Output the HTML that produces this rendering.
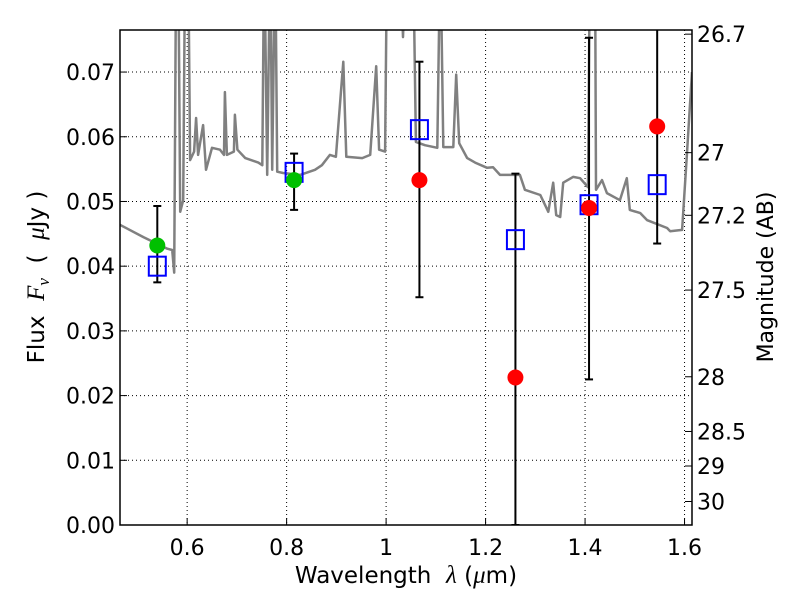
<!DOCTYPE html>
<html><head><meta charset="utf-8">
<style>
html,body{margin:0;padding:0;background:#fff;}
svg{display:block;font-family:"DejaVu Sans","Liberation Sans",sans-serif;}
</style></head>
<body>
<svg id="chart" width="800" height="600" viewBox="0 0 800 600" xmlns="http://www.w3.org/2000/svg">
<rect x="0" y="0" width="800" height="600" fill="#fff"/>
<defs><clipPath id="plotclip"><rect x="120" y="30" width="572" height="495"/></clipPath></defs>
<g id="grid"></g>
<g id="spectrum" clip-path="url(#plotclip)"></g>
<g id="points" clip-path="url(#plotclip)"></g>
<rect x="120" y="30" width="572" height="495" fill="none" stroke="#000" stroke-width="1.5"/>
<g id="axes"></g>
<text x="406" y="583" font-size="23" text-anchor="middle" xml:space="preserve">Wavelength  <tspan font-style="italic" font-family="Liberation Serif,serif" font-size="25">λ</tspan> (<tspan font-style="italic" font-family="Liberation Serif,serif" font-size="25">μ</tspan>m)</text>
<text transform="translate(44,277) rotate(-90)" font-size="23" text-anchor="middle" xml:space="preserve">Flux  <tspan font-style="italic" font-family="Liberation Serif,serif" font-size="25">F</tspan><tspan font-style="italic" font-family="Liberation Serif,serif" font-size="17" dy="5">ν</tspan><tspan dy="-5">  (  </tspan><tspan font-style="italic" font-family="Liberation Serif,serif" font-size="25">μ</tspan>Jy )</text>
<text transform="translate(773,277) rotate(-90)" font-size="22" text-anchor="middle">Magnitude (AB)</text>
</svg>
<script>
const xTicks = [0.6, 0.8, 1.0, 1.2, 1.4, 1.6];
const xTickLabels = ["0.6", "0.8", "1", "1.2", "1.4", "1.6"];
const yTicks = [0, 0.01, 0.02, 0.03, 0.04, 0.05, 0.06, 0.07];
const yTickLabels = ["0.00","0.01","0.02","0.03","0.04","0.05","0.06","0.07"];
const magTicks = [26.7, 27, 27.2, 27.5, 28, 28.5, 29, 30];
const magTickLabels = ["26.7","27","27.2","27.5","28","28.5","29","30"];

const specLam = [0.465,0.512,0.560,0.570,0.574,0.578,0.582,0.586,0.592,0.596,0.602,0.606,0.614,0.618,0.622,0.632,0.638,0.650,0.666,0.674,0.676,0.680,0.694,0.696,0.701,0.717,0.743,0.751,0.755,0.761,0.767,0.771,0.777,0.781,0.793,0.827,0.857,0.871,0.887,0.899,0.914,0.920,0.952,0.968,0.980,0.986,0.998,1.002,1.028,1.034,1.040,1.054,1.060,1.078,1.103,1.109,1.115,1.135,1.141,1.147,1.163,1.179,1.203,1.215,1.229,1.269,1.279,1.310,1.326,1.336,1.342,1.350,1.356,1.376,1.390,1.406,1.410,1.420,1.422,1.434,1.444,1.470,1.484,1.490,1.511,1.525,1.565,1.571,1.595,1.605,1.615];
const specFlux = [0.0464,0.0445,0.0427,0.0425,0.0390,0.09,0.09,0.0484,0.0502,0.09,0.09,0.0564,0.0577,0.0629,0.0572,0.0618,0.0549,0.0583,0.0580,0.0572,0.0669,0.0572,0.0577,0.0634,0.0580,0.0567,0.0560,0.0556,0.09,0.0541,0.09,0.0549,0.09,0.0546,0.0544,0.0541,0.0549,0.0556,0.0572,0.0569,0.0716,0.0569,0.0567,0.0572,0.0709,0.0580,0.0577,0.09,0.09,0.0754,0.09,0.09,0.0592,0.0587,0.0583,0.09,0.0584,0.0584,0.0696,0.0590,0.0567,0.0560,0.0552,0.0553,0.0541,0.0541,0.0518,0.0510,0.0484,0.0529,0.0479,0.0476,0.0529,0.0538,0.0536,0.0522,0.09,0.09,0.0518,0.0533,0.0513,0.0502,0.0536,0.0487,0.0482,0.0471,0.0459,0.0454,0.0456,0.0575,0.0700];

const bandLam = [0.54, 0.815, 1.067, 1.26, 1.408, 1.545];
const obsFlux = [0.0432, 0.0533, 0.0533, 0.0228, 0.0490, 0.0616];
const obsColor = ["#00c000","#00c000","#ff0000","#ff0000","#ff0000","#ff0000"];
const errLow = [0.0375, 0.0487, 0.0352, 0.0, 0.0225, 0.0435];
const errHigh = [0.0493, 0.0574, 0.0716, 0.0543, 0.0753, 0.0790];
const modelFlux = [0.0400, 0.0545, 0.0611, 0.0441, 0.0495, 0.0526];

const X0=120, X1=692, Y0=525, Y1=30;
const LMIN=0.465, LMAX=1.615, FMIN=0, FMAX=0.0765;
function xs(l){return X0+(l-LMIN)/(LMAX-LMIN)*(X1-X0);}
function ys(f){return Y0-(f-FMIN)/(FMAX-FMIN)*(Y0-Y1);}
function magToFlux(m){return Math.pow(10,(23.9-m)/2.5);}
const NS="http://www.w3.org/2000/svg";
function mk(tag,attrs,parent){const e=document.createElementNS(NS,tag);for(const k in attrs)e.setAttribute(k,attrs[k]);parent.appendChild(e);return e;}

const grid=document.getElementById('grid');
const axes=document.getElementById('axes');
xTicks.forEach((t,i)=>{
  const x=xs(t);
  const g=mk('line',{x1:x,x2:x,y1:Y1,y2:Y0,stroke:'#000','stroke-width':1,'stroke-dasharray':'1,3'},grid);
  
  
  const tk=mk('line',{x1:x,x2:x,y1:Y0,y2:Y0-7,stroke:'#000','stroke-width':1},axes);
  
  
  const tx=mk('text',{x:x,y:Y0+30,'font-size':22,'text-anchor':'middle'},axes);
  tx.textContent=xTickLabels[i];
  
  
});
yTicks.forEach((t,i)=>{
  const y=ys(t);
  const g=mk('line',{x1:X0,x2:X1,y1:y,y2:y,stroke:'#000','stroke-width':1,'stroke-dasharray':'1,3'},grid);
  
  
  const tk=mk('line',{x1:X0,x2:X0+7,y1:y,y2:y,stroke:'#000','stroke-width':1},axes);
  
  
  const tx=mk('text',{x:X0-5,y:y+8,'font-size':22,'text-anchor':'end'},axes);
  tx.textContent=yTickLabels[i];
  
  
});
magTicks.forEach((m,i)=>{
  const y=ys(magToFlux(m));
  const tk=mk('line',{x1:X1,x2:X1-7,y1:y,y2:y,stroke:'#000','stroke-width':1},axes);
  
  
  const tx=mk('text',{x:X1+5,y:y+8,'font-size':22,'text-anchor':'start'},axes);
  tx.textContent=magTickLabels[i];
  
  
});

const spec=document.getElementById('spectrum');
const pts=specLam.map((l,i)=>xs(l).toFixed(1)+','+ys(specFlux[i]).toFixed(1)).join(' ');
const pl=mk('polyline',{points:pts,fill:'none',stroke:'#808080','stroke-width':2.5,'stroke-linejoin':'round'},spec);



const pg=document.getElementById('points');
bandLam.forEach((l,i)=>{
  const x=xs(l);
  const eb=mk('line',{x1:x,x2:x,y1:ys(errLow[i]),y2:ys(errHigh[i]),stroke:'#000','stroke-width':2},pg);
  
  
  [errLow[i],errHigh[i]].forEach(v=>{
    const c=mk('line',{x1:x-4,x2:x+4,y1:ys(v),y2:ys(v),stroke:'#000','stroke-width':2},pg);
    
    
  });
  const sq=mk('rect',{x:x-8.5,y:ys(modelFlux[i])-9.5,width:17,height:19,fill:'none',stroke:'#0000ff','stroke-width':2},pg);
  
  
  const c=mk('circle',{cx:x,cy:ys(obsFlux[i]),r:8,fill:obsColor[i]},pg);
  
  
});
</script>
</body></html>
